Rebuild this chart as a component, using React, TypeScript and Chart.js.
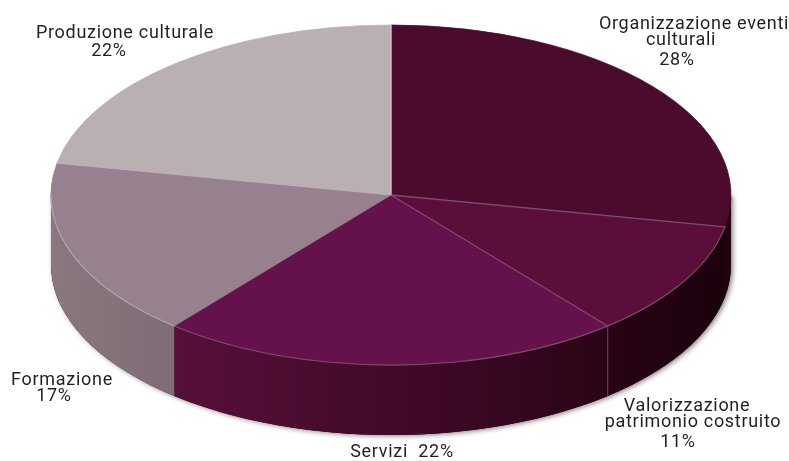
import React, { useEffect, useRef } from "react";
import { Chart, registerables } from "chart.js";

Chart.register(...registerables);

// Share of activity per sector, in percent.
const categories = [
  "Organizzazione eventi culturali",
  "Valorizzazione patrimonio costruito",
  "Servizi",
  "Formazione",
  "Produzione culturale",
];
const shares = [28, 11, 22, 17, 22];

// Line breaks of each sector name as printed.
const nameLines = [
  ["Organizzazione eventi", "culturali"],
  ["Valorizzazione", "patrimonio costruito"],
  ["Servizi"],
  ["Formazione"],
  ["Produzione culturale"],
];

const topColors = ["#4b0b2d", "#5a0e39", "#65114b", "#98818f", "#bab0b4"];
const wallStops = [
  ["#24030f", "#1f020e"],
  ["#280314", "#1b020d"],
  ["#571039", "#480c2e", "#3c0825", "#2a0416"],
  ["#8a7881", "#7e6c76"],
  ["#a09aa0", "#a09aa0"],
];

const TILT = 0.5;
const DEPTH = 70;
const RADIUS = 340;
const LABEL_FONT = '18px "Roboto", sans-serif';
const LABEL_SPACING = "0.7px";
const LABEL_COLOR = "#231f20";

// Centre x and baseline y of each printed line: name lines, then the percentage.
const labelLayout = [
  [[694, 29], [681, 45], [677, 65]],
  [[687, 411], [693, 427], [678, 447]],
  [[402, 457]],
  [[62, 385], [54, 401]],
  [[125, 38], [109, 56]],
];

type Geo = { x: number; y: number; rx: number; ry: number; a0: number; a1: number };

function sliceGeometry(chart: any): Geo[] {
  return chart.getDatasetMeta(0).data.map((arc: any) => {
    const p = arc.getProps(["x", "y", "startAngle", "endAngle", "outerRadius"], true);
    return { x: p.x, y: p.y, rx: p.outerRadius, ry: p.outerRadius * TILT, a0: p.startAngle, a1: p.endAngle };
  });
}

// Tilts the flat pie into an ellipse and builds the extruded rim below it.
const tiltedPie = {
  id: "tiltedPie",
  beforeDatasetsDraw(chart: any) {
    const ctx = chart.ctx;
    const slices = sliceGeometry(chart);
    const { x, y, rx, ry } = slices[0];

    // Soft shadow around the lower edge of the drum.
    ctx.save();
    ctx.shadowColor = "rgba(40,30,35,0.55)";
    ctx.shadowBlur = 5;
    ctx.shadowOffsetX = 2;
    ctx.shadowOffsetY = 1;
    ctx.fillStyle = "#2a0416";
    ctx.beginPath();
    ctx.ellipse(x, y + DEPTH, rx, ry, 0, 0, Math.PI);
    ctx.lineTo(x - rx, y);
    ctx.lineTo(x + rx, y);
    ctx.closePath();
    ctx.fill();
    ctx.restore();

    // Side wall of every slice facing the viewer.
    slices.forEach((s, i) => {
      const from = Math.max(s.a0, 0);
      const to = Math.min(s.a1, Math.PI);
      if (to <= from) return;
      const xa = x + rx * Math.cos(from);
      const xb = x + rx * Math.cos(to);
      const grad = ctx.createLinearGradient(Math.min(xa, xb), 0, Math.max(xa, xb), 0);
      wallStops[i].forEach((c, k, all) => grad.addColorStop(k / (all.length - 1), c));
      ctx.fillStyle = grad;
      ctx.beginPath();
      ctx.ellipse(x, y, rx, ry, 0, from, to);
      ctx.ellipse(x, y + DEPTH, rx, ry, 0, to, from, true);
      ctx.closePath();
      ctx.fill();
    });

    ctx.save();
    ctx.translate(0, y);
    ctx.scale(1, TILT);
    ctx.translate(0, -y);
  },
  afterDatasetsDraw(chart: any) {
    const ctx = chart.ctx;
    ctx.restore();

    const slices = sliceGeometry(chart);
    const { x, y, rx, ry } = slices[0];
    const edge = (a: number) => [x + rx * Math.cos(a), y + ry * Math.sin(a)];

    ctx.save();
    ctx.lineCap = "round";

    // Highlighted rim along the front of the top face.
    ctx.strokeStyle = "#7d4c6c";
    ctx.lineWidth = 1.2;
    ctx.beginPath();
    ctx.ellipse(x, y, rx, ry, 0, slices[1].a0, slices[2].a1);
    ctx.stroke();
    ctx.strokeStyle = "#b5a5ad";
    ctx.beginPath();
    ctx.ellipse(x, y, rx, ry, 0, slices[3].a0, Math.PI);
    ctx.stroke();

    // Spokes between the dark slices, plus the seam on the wall.
    ctx.strokeStyle = "#7d4c6c";
    ctx.lineWidth = 1.4;
    [slices[1].a0, slices[2].a0].forEach((a) => {
      const [ex, ey] = edge(a);
      ctx.beginPath();
      ctx.moveTo(x, y);
      ctx.lineTo(ex, ey);
      ctx.stroke();
    });
    const [sx, sy] = edge(slices[2].a0);
    ctx.lineWidth = 1;
    ctx.strokeStyle = "#6d4560";
    ctx.beginPath();
    ctx.moveTo(sx, sy);
    ctx.lineTo(sx, sy + DEPTH);
    ctx.stroke();

    // Pale hairline where the lightest slice meets the first one.
    const [tx, ty] = edge(slices[0].a0);
    ctx.strokeStyle = "#d5ced2";
    ctx.lineWidth = 1;
    ctx.beginPath();
    ctx.moveTo(x, y);
    ctx.lineTo(tx, ty);
    ctx.stroke();
    ctx.restore();
  },
  afterDraw(chart: any) {
    const ctx = chart.ctx;
    ctx.save();
    ctx.font = LABEL_FONT;
    (ctx as any).letterSpacing = LABEL_SPACING;
    ctx.fillStyle = LABEL_COLOR;
    ctx.textAlign = "center";
    ctx.textBaseline = "alphabetic";
    nameLines.forEach((name, i) => {
      const inline = categories[i] === "Servizi";
      const lines = inline
        ? [`${name[0]}  ${shares[i]}%`]
        : [...name, `${shares[i]}%`];
      lines.forEach((line, k) => {
        const [lx, ly] = labelLayout[i][k];
        ctx.fillText(line, lx, ly);
      });
    });
    ctx.restore();
  },
};

export default function App() {
  const ref = useRef<HTMLCanvasElement>(null);

  useEffect(() => {
    const chart = new Chart(ref.current!, {
      type: "pie",
      data: {
        labels: categories,
        datasets: [
          {
            data: shares,
            backgroundColor: topColors,
            borderColor: topColors,
            borderWidth: 1,
            radius: RADIUS,
            clip: false,
          } as any,
        ],
      },
      options: {
        responsive: false,
        animation: false,
        layout: { padding: { right: 7, bottom: 71 } },
        plugins: { legend: { display: false }, tooltip: { enabled: false } },
      },
      plugins: [tiltedPie],
    });
    return () => chart.destroy();
  }, []);

  return (
    <div style={{ position: "absolute", left: 0, top: 0, width: 789, height: 461, background: "#ffffff" }}>
      <canvas ref={ref} width={789} height={461} style={{ display: "block" }} />
    </div>
  );
}
